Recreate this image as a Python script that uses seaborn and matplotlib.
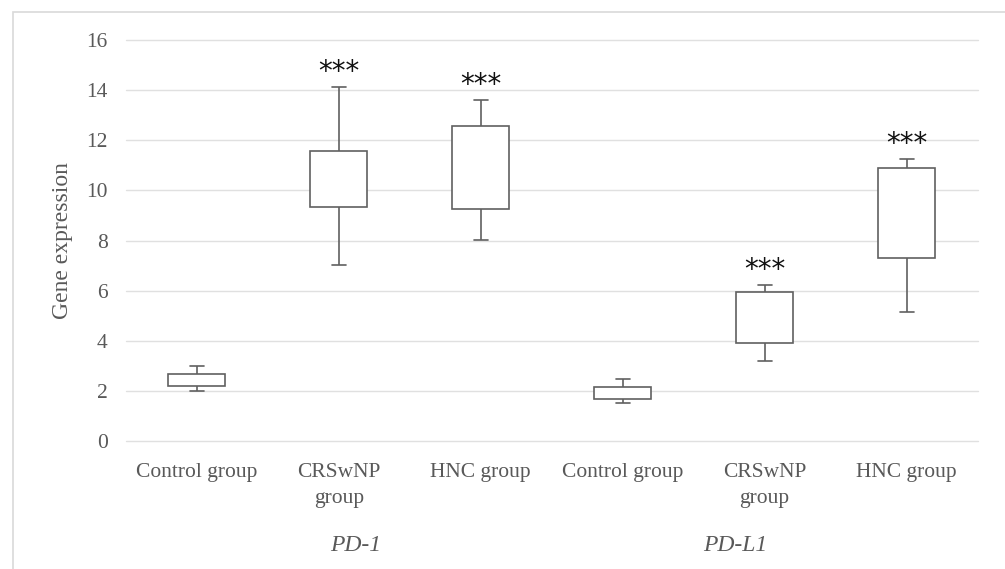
import matplotlib
matplotlib.use("Agg")
import matplotlib.pyplot as plt
import pandas as pd
import seaborn as sns
from matplotlib.patches import Rectangle

# five-number style summaries (no median drawn)
genes = ["PD-1", "PD-1", "PD-1", "PD-L1", "PD-L1", "PD-L1"]
groups = ["Control group", "CRSwNP\ngroup", "HNC group",
          "Control group", "CRSwNP\ngroup", "HNC group"]
mins = [2.0, 7.03, 8.02, 1.5, 3.19, 5.16]
q1s = [2.2, 9.34, 9.27, 1.66, 3.91, 7.32]
q3s = [2.66, 11.58, 12.56, 2.14, 5.94, 10.91]
maxs = [2.99, 14.14, 13.6, 2.47, 6.22, 11.25]
stars = ["", "***", "***", "", "***", "***"]

keys = [f"{g}|{c}" for g, c in zip(genes, groups)]
rows = []
for k, lo, a, b, hi in zip(keys, mins, q1s, q3s, maxs):
    for v in (lo, a, a, b, hi):
        rows.append({"key": k, "value": v})
df = pd.DataFrame(rows)

sns.set_style("white")
plt.rcParams["font.family"] = ["Liberation Serif", "DejaVu Serif"]

fig = plt.figure(figsize=(10.05, 5.69), dpi=100)
ax = fig.add_axes([0.1251, 0.2249, 0.8477, 0.7048])

grey = "#595959"
sns.boxplot(data=df, x="key", y="value", order=keys, ax=ax, width=0.4,
            whis=(0, 100), color="white", linecolor="#606060", linewidth=1.2,
            showfliers=False, capwidths=0.1,
            medianprops={"visible": False})

ax.set_ylim(0, 16)
ax.set_yticks(range(0, 17, 2))
ax.yaxis.grid(True, color="#e0e0e0", linewidth=1.0)
for gl in ax.get_ygridlines():
    gl.set_clip_on(False)
ax.set_axisbelow(True)
for s in ax.spines.values():
    s.set_visible(False)
ax.tick_params(length=0, labelsize=15.5, labelcolor=grey)
ax.tick_params(axis="y", pad=13)
ax.tick_params(axis="x", pad=16)
ax.set_xticks(range(len(keys)))
ax.set_xticklabels(groups, linespacing=1.5, va="top")
ax.set_xlabel("")
ax.set_ylabel("")
fig.text(0.062, 0.578, "Gene expression", rotation=90, ha="center",
         va="center", fontsize=17, color=grey)

for i, (s, hi) in enumerate(zip(stars, maxs)):
    if s:
        ax.text(i, hi + 0.6, s, ha="center", va="center", fontsize=20,
                color="#111111", family="DejaVu Sans")

fig.text(0.354, 0.041, "PD-1", ha="center", va="center", fontsize=17,
         style="italic", color=grey)
fig.text(0.732, 0.041, "PD-L1", ha="center", va="center", fontsize=17,
         style="italic", color=grey)

fig.patches.append(Rectangle((13 / 1005, -0.1), 1.2, 1.1 - 12 / 569,
                             transform=fig.transFigure, fill=False,
                             edgecolor="#d9d9d9", linewidth=1.2))

fig.savefig("out.png", dpi=100)
